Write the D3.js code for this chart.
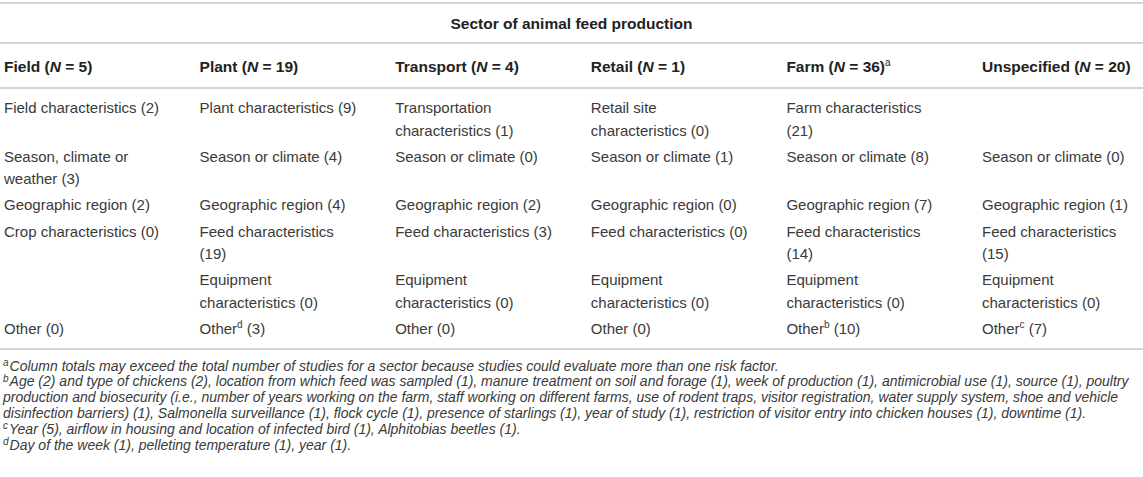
<!DOCTYPE html>
<html lang="en">
    <head>
        <meta charset="utf-8">
        <title>Risk factors by sector of animal feed production</title>
        <script src="https://d3js.org/d3.v7.min.js"></script>
        <style type="text/css">
        body { margin: 0; background: #fff; }
        svg { font-family: "Liberation Sans", Arial, sans-serif; }
        </style>
    </head>
    <body>
        <script type="text/javascript">

//1. Data
const sectors = ["Field", "Plant", "Transport", "Retail", "Farm", "Unspecified"];
const sectorN = [5, 19, 4, 1, 36, 20];
const sectorNotes = ["", "", "", "", "a", ""];

// one list per table row, one entry per sector (null = empty cell)
const factorLabels = [
    ["Field characteristics", "Plant characteristics", "Transportation characteristics", "Retail site characteristics", "Farm characteristics", null],
    ["Season, climate or weather", "Season or climate", "Season or climate", "Season or climate", "Season or climate", "Season or climate"],
    ["Geographic region", "Geographic region", "Geographic region", "Geographic region", "Geographic region", "Geographic region"],
    ["Crop characteristics", "Feed characteristics", "Feed characteristics", "Feed characteristics", "Feed characteristics", "Feed characteristics"],
    [null, "Equipment characteristics", "Equipment characteristics", "Equipment characteristics", "Equipment characteristics", "Equipment characteristics"],
    ["Other", "Other", "Other", "Other", "Other", "Other"]
];
const factorCounts = [
    [2, 9, 1, 0, 21, null],
    [3, 4, 0, 1, 8, 0],
    [2, 4, 2, 0, 7, 1],
    [0, 19, 3, 0, 14, 15],
    [null, 0, 0, 0, 0, 0],
    [0, 3, 0, 0, 10, 7]
];
const otherNotes = ["", "d", "", "", "b", "c"];

const footnoteMarks = ["a", "b", "c", "d"];
const footnoteLines = [
    ["Column totals may exceed the total number of studies for a sector because studies could evaluate more than one risk factor."],
    ["Age (2) and type of chickens (2), location from which feed was sampled (1), manure treatment on soil and forage (1), week of production (1), antimicrobial use (1), source (1), poultry",
     "production and biosecurity (i.e., number of years working on the farm, staff working on different farms, use of rodent traps, visitor registration, water supply system, shoe and vehicle",
     "disinfection barriers) (1), Salmonella surveillance (1), flock cycle (1), presence of starlings (1), year of study (1), restriction of visitor entry into chicken houses (1), downtime (1)."],
    ["Year (5), airflow in housing and location of infected bird (1), Alphitobias beetles (1)."],
    ["Day of the week (1), pelleting temperature (1), year (1)."]
];

//2. Layout consts
const svgWidth = 1143;
const svgHeight = 477;
const colStep = 195.6;
const wrapWidth = 161;
const lineH = 22.5;
const rowPad = 3.7;
const bodyTop = 113;
const ruleColor = "#c4c4c4";
const textColor = "#3a3a3a";

const xScale = d3.scaleBand()
                .domain(sectors)
                .range([4, 4 + colStep * sectors.length]);

const svg = d3.select("body")
            .append("svg")
            .attr("width", svgWidth)
            .attr("height", svgHeight);

//3. Rules
[3, 43, 88, 349].forEach(y => {
    svg.append("line")
        .attr("x1", 0).attr("x2", svgWidth)
        .attr("y1", y).attr("y2", y)
        .attr("stroke", ruleColor)
        .attr("stroke-width", 1.6);
});

//4. Title
svg.append("text")
    .attr("x", svgWidth / 2)
    .attr("y", 29)
    .attr("text-anchor", "middle")
    .attr("font-weight", "bold")
    .attr("font-size", "15.5px")
    .attr("fill", "#222")
    .text("Sector of animal feed production");

//5. Column headers
sectors.forEach((s, i) => {
    const t = svg.append("text")
        .attr("x", xScale(s))
        .attr("y", 72)
        .attr("font-weight", "bold")
        .attr("font-size", "15.5px")
        .attr("fill", "#222");
    t.append("tspan").text(s + " (");
    t.append("tspan").attr("font-style", "italic").text("N");
    t.append("tspan").text(" = " + sectorN[i] + ")");
    if (sectorNotes[i]) {
        t.append("tspan").attr("font-size", "10px").attr("font-weight", "normal").attr("dy", -6).text(sectorNotes[i]);
    }
});

//6. Body cells, wrapped
function wrap(text, str, x, maxW) {
    const words = str.split(" ");
    let line = [];
    let n = 1;
    let tspan = text.append("tspan").attr("x", x).attr("dy", 0);
    words.forEach(w => {
        line.push(w);
        tspan.text(line.join(" "));
        if (tspan.node().getComputedTextLength() > maxW && line.length > 1) {
            line.pop();
            tspan.text(line.join(" "));
            line = [w];
            tspan = text.append("tspan").attr("x", x).attr("dy", lineH).text(w);
            n++;
        }
    });
    return n;
}

let rowY = bodyTop;
factorLabels.forEach((row, r) => {
    const g = svg.append("g").attr("transform", "translate(0," + rowY + ")");
    let maxLines = 1;
    row.forEach((label, c) => {
        if (label === null) return;
        const x = xScale(sectors[c]);
        const t = g.append("text")
            .attr("x", x)
            .attr("y", 0)
            .attr("font-size", "15px")
            .attr("fill", textColor);
        if (label === "Other") {
            t.append("tspan").text("Other");
            if (otherNotes[c]) {
                t.append("tspan").attr("font-size", "10px").attr("dy", -6).text(otherNotes[c]);
                t.append("tspan").attr("dy", 6).text(" (" + factorCounts[r][c] + ")");
            } else {
                t.append("tspan").text(" (" + factorCounts[r][c] + ")");
            }
        } else {
            const n = wrap(t, label + " (" + factorCounts[r][c] + ")", x, wrapWidth);
            maxLines = Math.max(maxLines, n);
        }
    });
    rowY += maxLines * lineH + rowPad;
});

//7. Footnotes
let fy = 370.5;
footnoteLines.forEach((lines, i) => {
    lines.forEach((ln, j) => {
        const t = svg.append("text")
            .attr("x", 3)
            .attr("y", fy)
            .attr("font-size", "14px")
            .attr("font-style", "italic")
            .attr("fill", textColor);
        if (j === 0) {
            t.append("tspan").attr("font-size", "10px").attr("dy", -4.5).text(footnoteMarks[i]);
            t.append("tspan").attr("dy", 4.5).attr("dx", 1).text(ln);
        } else {
            t.text(ln);
        }
        fy += 15.8;
    });
});

</script>
</body>
</html>
